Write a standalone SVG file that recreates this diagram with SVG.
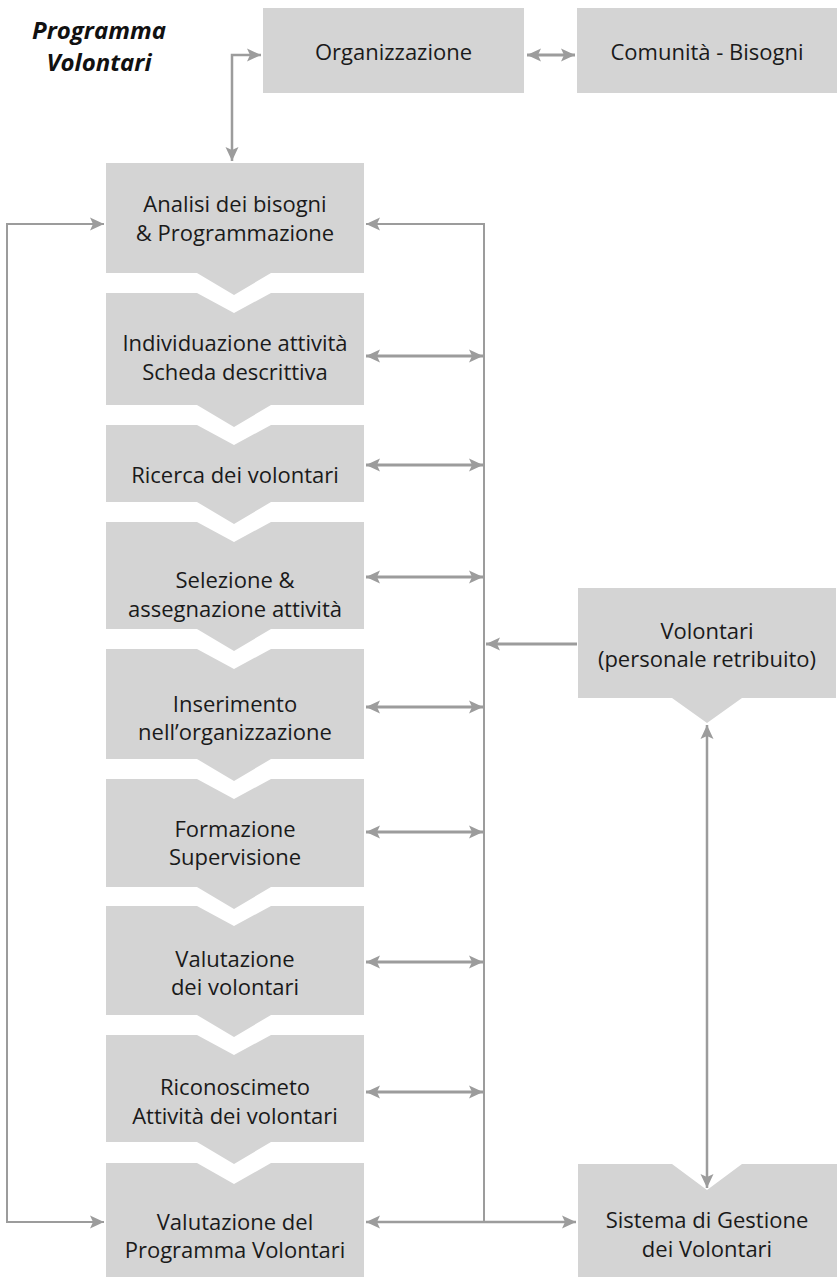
<svg xmlns="http://www.w3.org/2000/svg" width="840" height="1287" viewBox="0 0 840 1287">
<style>
.box{fill:#d4d4d4;}
.t{font-family:"Open Sans","Noto Sans","Liberation Sans",sans-serif;font-size:22px;fill:#1a1a1a;text-anchor:middle;}
.title{font-family:"Open Sans","Noto Sans","Liberation Sans",sans-serif;font-size:24px;font-weight:bold;font-style:italic;fill:#111;text-anchor:middle;}
.c{fill:none;stroke:#9c9c9c;stroke-width:2.5;}
.thin{stroke-width:2;}
.thick{stroke-width:3;}
</style>
<defs>
<marker id="ah" viewBox="0 0 14 14" refX="14" refY="7" markerWidth="14" markerHeight="14" markerUnits="userSpaceOnUse" orient="auto-start-reverse">
<path d="M0,0.5 L14,7 L0,13.5 L3,7 z" fill="#9c9c9c"/>
</marker>
</defs>
<rect width="840" height="1287" fill="#ffffff"/>
<g id="title">
<text class="title" x="99" y="39">Programma</text>
<text class="title" x="99" y="71">Volontari</text>
</g>
<g id="connectors">
<path class="c" d="M232,161 L232,55 L261,55" marker-start="url(#ah)" marker-end="url(#ah)"/>
<path class="c thick" d="M527,55 L575,55" marker-start="url(#ah)" marker-end="url(#ah)"/>
<path class="c thin" d="M104,224 L7,224 L7,1222 L104,1222" marker-start="url(#ah)" marker-end="url(#ah)"/>
<path class="c thin" d="M366,224 L484,224 L484,1223" marker-start="url(#ah)"/>
<path class="c" d="M366,1222 L576,1222" marker-start="url(#ah)" marker-end="url(#ah)"/>
<path class="c thick" d="M366,356 L483,356" marker-start="url(#ah)" marker-end="url(#ah)"/>
<path class="c thick" d="M366,465 L483,465" marker-start="url(#ah)" marker-end="url(#ah)"/>
<path class="c thick" d="M366,577 L483,577" marker-start="url(#ah)" marker-end="url(#ah)"/>
<path class="c thick" d="M366,707 L483,707" marker-start="url(#ah)" marker-end="url(#ah)"/>
<path class="c thick" d="M366,832 L483,832" marker-start="url(#ah)" marker-end="url(#ah)"/>
<path class="c thick" d="M366,962 L483,962" marker-start="url(#ah)" marker-end="url(#ah)"/>
<path class="c thick" d="M366,1092 L483,1092" marker-start="url(#ah)" marker-end="url(#ah)"/>
<path class="c thick" d="M577,644 L486,644" marker-end="url(#ah)"/>
<path class="c" d="M707,725 L707,1188" marker-start="url(#ah)" marker-end="url(#ah)"/>
</g>
<g id="organizzazione">
<rect class="box" x="263" y="8" width="261" height="85"/>
<text class="t" x="393.5" y="60">Organizzazione</text>
</g>
<g id="comunita">
<rect class="box" x="577" y="8" width="260" height="85"/>
<text class="t" x="707" y="60">Comunità - Bisogni</text>
</g>
<g id="analisi">
<path class="box" d="M106,163 L364,163 L364,273 L271,273 L234,295 L197,273 L106,273 Z"/>
<text class="t" x="235" y="212">Analisi dei bisogni</text>
<text class="t" x="235" y="241">&amp; Programmazione</text>
</g>
<g id="individuazione">
<path class="box" d="M106,293 L197,293 L234,313 L271,293 L364,293 L364,405 L271,405 L234,427 L197,405 L106,405 Z"/>
<text class="t" x="235" y="351">Individuazione attività</text>
<text class="t" x="235" y="380">Scheda descrittiva</text>
</g>
<g id="ricerca">
<path class="box" d="M106,425 L197,425 L234,445 L271,425 L364,425 L364,502 L271,502 L234,524 L197,502 L106,502 Z"/>
<text class="t" x="235" y="483">Ricerca dei volontari</text>
</g>
<g id="selezione">
<path class="box" d="M106,522 L197,522 L234,542 L271,522 L364,522 L364,629 L271,629 L234,651 L197,629 L106,629 Z"/>
<text class="t" x="235" y="588">Selezione &amp;</text>
<text class="t" x="235" y="617">assegnazione attività</text>
</g>
<g id="inserimento">
<path class="box" d="M106,649 L197,649 L234,669 L271,649 L364,649 L364,759 L271,759 L234,781 L197,759 L106,759 Z"/>
<text class="t" x="235" y="712">Inserimento</text>
<text class="t" x="235" y="740">nell’organizzazione</text>
</g>
<g id="formazione">
<path class="box" d="M106,779 L197,779 L234,799 L271,779 L364,779 L364,887 L271,887 L234,909 L197,887 L106,887 Z"/>
<text class="t" x="235" y="837">Formazione</text>
<text class="t" x="235" y="865">Supervisione</text>
</g>
<g id="valutazione-volontari">
<path class="box" d="M106,906 L197,906 L234,926 L271,906 L364,906 L364,1015 L271,1015 L234,1037 L197,1015 L106,1015 Z"/>
<text class="t" x="235" y="967">Valutazione</text>
<text class="t" x="235" y="995">dei volontari</text>
</g>
<g id="riconoscimento">
<path class="box" d="M106,1035 L197,1035 L234,1055 L271,1035 L364,1035 L364,1142 L271,1142 L234,1164 L197,1142 L106,1142 Z"/>
<text class="t" x="235" y="1095">Riconoscimeto</text>
<text class="t" x="235" y="1124">Attività dei volontari</text>
</g>
<g id="valutazione-programma">
<path class="box" d="M106,1163 L197,1163 L234,1184 L271,1163 L364,1163 L364,1277 L106,1277 Z"/>
<text class="t" x="235" y="1230">Valutazione del</text>
<text class="t" x="235" y="1258">Programma Volontari</text>
</g>
<g id="volontari">
<path class="box" d="M578,588 L836,588 L836,698 L742,698 L707,723 L672,698 L578,698 Z"/>
<text class="t" x="707" y="639">Volontari</text>
<text class="t" x="707" y="667">(personale retribuito)</text>
</g>
<g id="sistema">
<path class="box" d="M578,1164 L672,1164 L707,1190 L742,1164 L837,1164 L837,1277 L578,1277 Z"/>
<text class="t" x="707" y="1228">Sistema di Gestione</text>
<text class="t" x="707" y="1257">dei Volontari</text>
</g>
</svg>
